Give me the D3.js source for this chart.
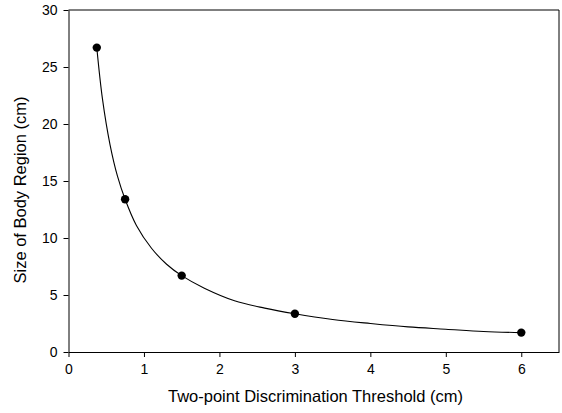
<!DOCTYPE html>
<html>
<head>
<meta charset="utf-8">
<script src="https://cdn.jsdelivr.net/npm/d3@7"></script>
<style>
  body { margin: 0; background: #fff; }
  svg text { font-family: "Liberation Sans", Arial, sans-serif; fill: #000; }
</style>
</head>
<body>
<svg id="chart" width="562" height="413"></svg>
<script>
// measured points
let thresholds = [0.375, 0.75, 1.5, 3, 6];
let regionSizes = [26.7, 13.4, 6.7, 3.35, 1.7];

// fitted curve
let curveX = [0.375, 0.45, 0.55, 0.65, 0.75, 0.9, 1.1, 1.3, 1.5, 1.8, 2.2, 2.6, 3, 3.5, 4, 4.5, 5, 5.5, 6];
let curveY = [26.7, 22.2, 18.2, 15.4, 13.4, 11.1, 9.1, 7.7, 6.7, 5.6, 4.5, 3.85, 3.35, 2.85, 2.5, 2.2, 2.0, 1.8, 1.7];

let xTicks = [0, 1, 2, 3, 4, 5, 6];
let yTicks = [0, 5, 10, 15, 20, 25, 30];

let margin = {left: 68.5, top: 10, right: 3, bottom: 61};
let svg = d3.select("svg#chart");
let W = 562, H = 413;

let x = d3.scaleLinear().domain([0, 6.5]).range([margin.left, W - margin.right]);
let y = d3.scaleLinear().domain([0, 30]).range([H - margin.bottom, margin.top]);

// frame (top + right)
svg.append("path")
    .attr("d", `M${x(0)},${y(30)}H${x(6.5)}V${y(0)}`)
    .attr("fill", "none")
    .attr("stroke", "#000")
    .attr("stroke-width", 1);

let xAxis = svg.append("g")
    .attr("transform", `translate(0,${y(0)})`)
    .call(d3.axisBottom(x).tickValues(xTicks).tickFormat(d3.format("d"))
        .tickSize(5).tickPadding(7).tickSizeOuter(0));
let yAxis = svg.append("g")
    .attr("transform", `translate(${x(0)},0)`)
    .call(d3.axisLeft(y).tickValues(yTicks).tickFormat(d3.format("d"))
        .tickSize(5).tickPadding(6).tickSizeOuter(0));

[xAxis, yAxis].forEach(g => {
    g.selectAll("text").style("font-size", "14px").attr("fill", "#000");
    g.selectAll("line").attr("stroke", "#000");
    g.select(".domain").attr("stroke", "#000");
});

// fitted line
let line = d3.line()
    .x((d, i) => x(curveX[i]))
    .y((d, i) => y(curveY[i]))
    .curve(d3.curveCatmullRom);
svg.append("path")
    .datum(curveX)
    .attr("d", line)
    .attr("fill", "none")
    .attr("stroke", "#000")
    .attr("stroke-width", 1.1);

// points
svg.selectAll("circle.pt")
    .data(thresholds)
    .enter()
    .append("circle")
    .attr("class", "pt")
    .attr("cx", d => x(d))
    .attr("cy", (d, i) => y(regionSizes[i]))
    .attr("r", 4.2)
    .attr("fill", "#000");

// axis titles
svg.append("text")
    .attr("x", 315.5)
    .attr("y", 402)
    .attr("text-anchor", "middle")
    .style("font-size", "16.5px")
    .text("Two-point Discrimination Threshold (cm)");

svg.append("text")
    .attr("transform", `translate(20,190) rotate(-90)`)
    .attr("text-anchor", "middle")
    .attr("dy", "0.35em")
    .style("font-size", "16.5px")
    .text("Size of Body Region (cm)");
</script>
</body>
</html>
